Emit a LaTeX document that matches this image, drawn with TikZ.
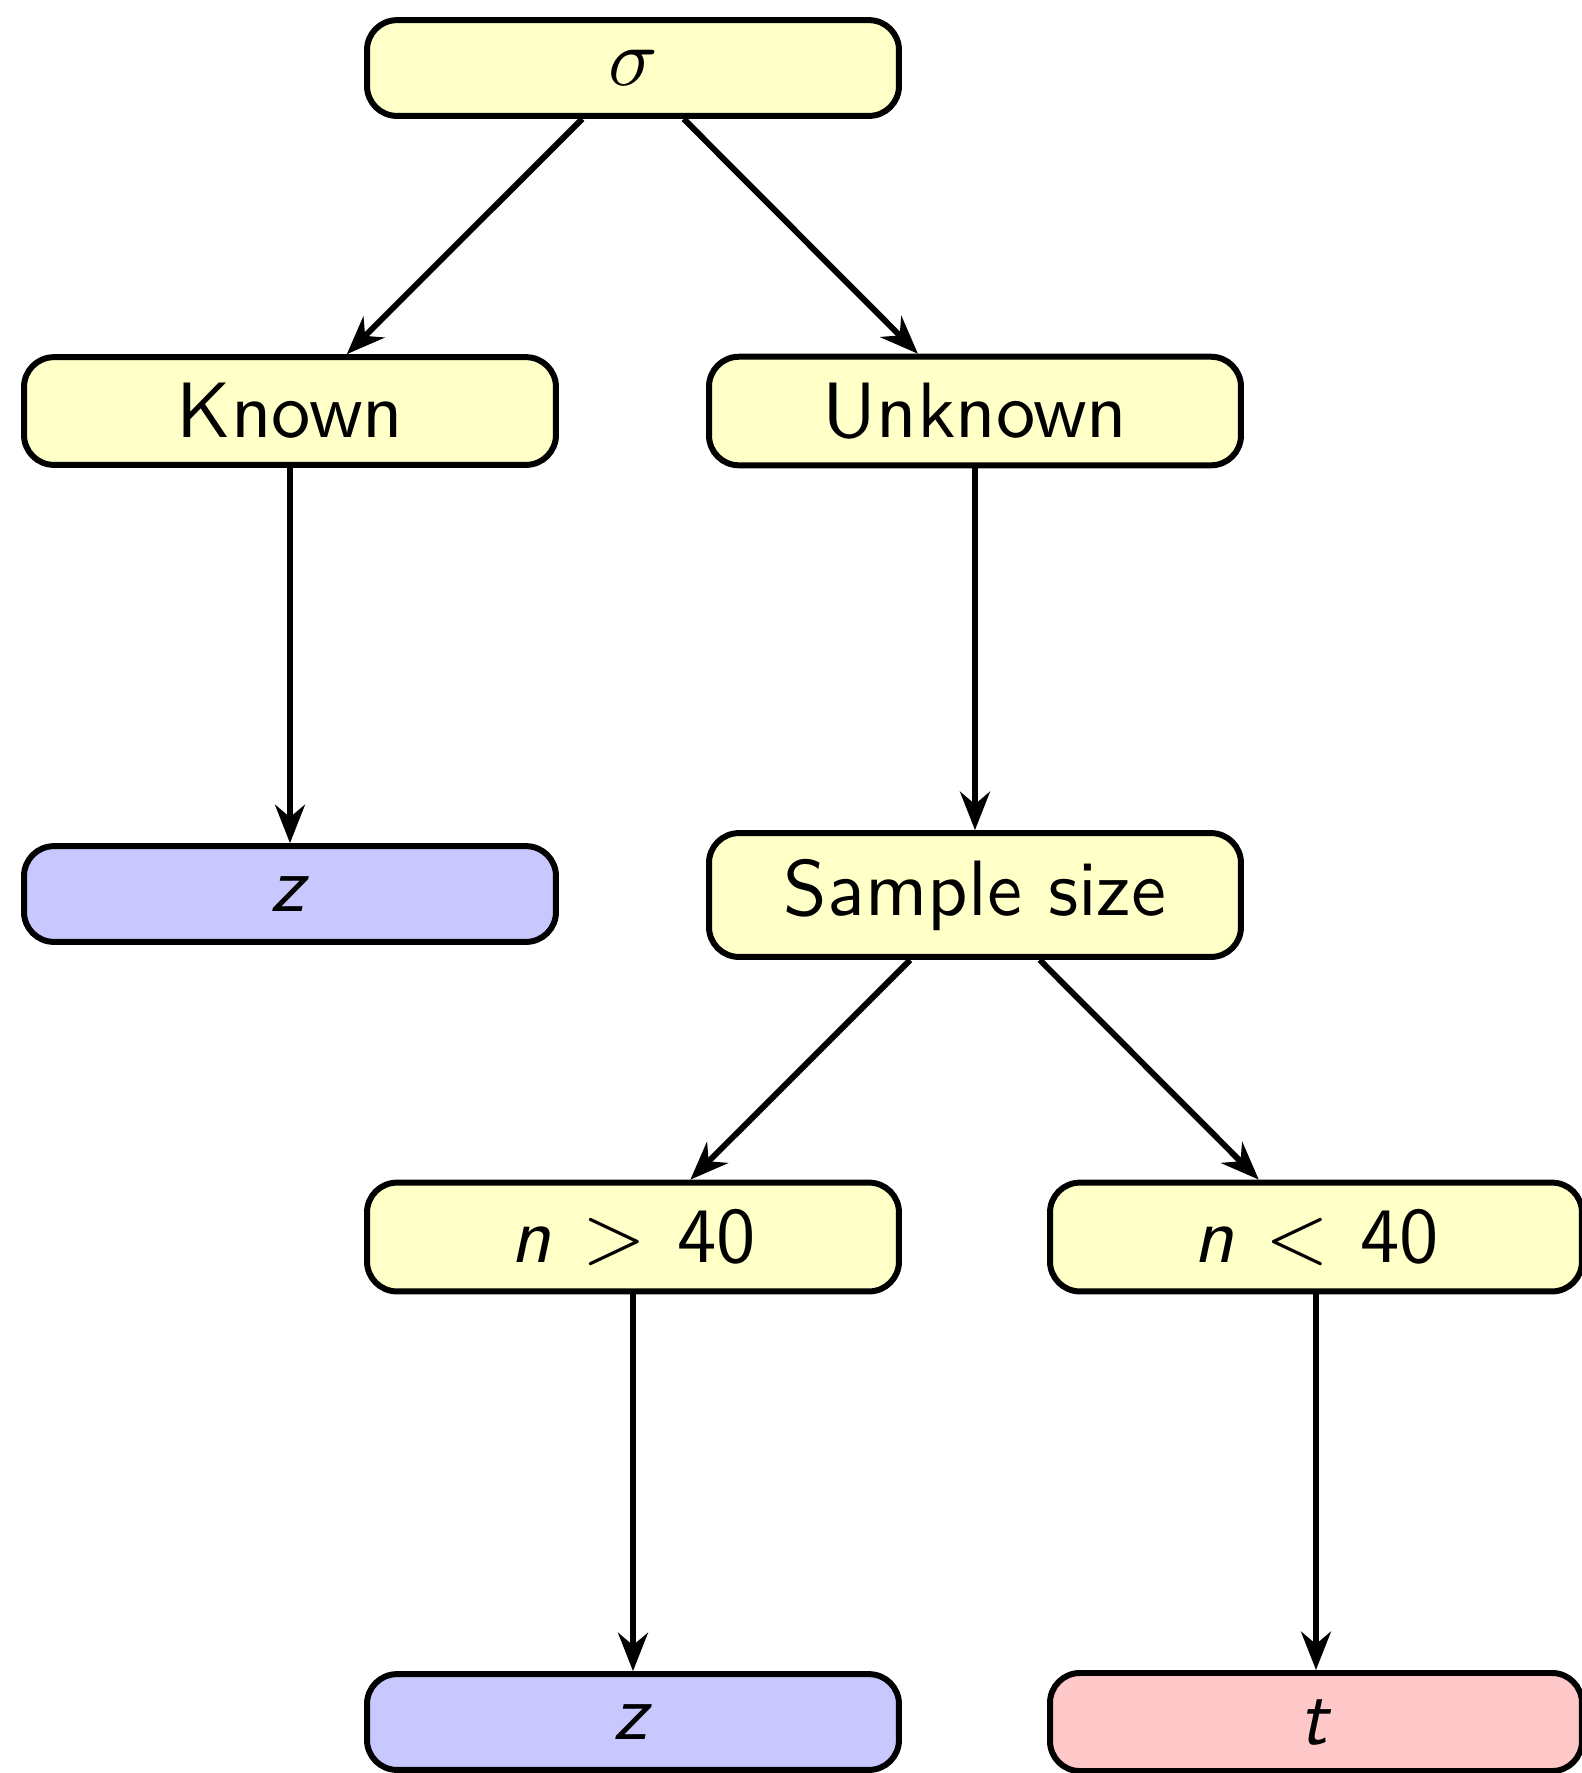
\documentclass[tikz,border=0pt]{standalone}
\usepackage{tikz}
\usetikzlibrary{arrows.meta}
\definecolor{pale}{RGB}{255,255,200}
\definecolor{lilac}{RGB}{200,200,255}
\definecolor{rosy}{RGB}{255,200,200}
\tikzset{
  box/.style={draw=black,thick,rounded corners=4pt,minimum width=2.5cm,minimum height=0.45cm,inner ysep=3.5pt,font=\sffamily\fontsize{10.5}{12}\selectfont},
  ybox/.style={box,fill=pale},
  bbox/.style={box,fill=lilac},
  rbox/.style={box,fill=rosy},
  arr/.style={-{Stealth[length=1.8mm,width=1.4mm]},thick},
}
\begin{document}
\begin{tikzpicture}[x=0.0047cm,y=-0.0047cm]
  \useasboundingbox (0,0) rectangle (1582,1773);
  \node[ybox] (sigma) at (633,68) {$\sigma$};
  \node[ybox] (known) at (290,411) {Known};
  \node[ybox] (unknown) at (975,411) {Unknown};
  \node[bbox] (zk) at (290,894) {\textit{z}};
  \node[ybox] (size) at (975,895) {Sample size};
  \node[ybox] (big) at (633,1237) {\textit{n}\hspace{0.4em}$>$\hspace{0.4em}40};
  \node[ybox] (small) at (1316,1237) {\textit{n}\hspace{0.4em}$<$\hspace{0.4em}40};
  \node[bbox] (zn) at (633,1722) {\textit{z}};
  \node[rbox] (tn) at (1316,1722) {\textit{t}};
  \draw[arr] (sigma)--(known); \draw[arr] (sigma)--(unknown);
  \draw[arr] (known)--(zk); \draw[arr] (unknown)--(size);
  \draw[arr] (size)--(big); \draw[arr] (size)--(small);
  \draw[arr] (big)--(zn); \draw[arr] (small)--(tn);
\end{tikzpicture}
\end{document}
